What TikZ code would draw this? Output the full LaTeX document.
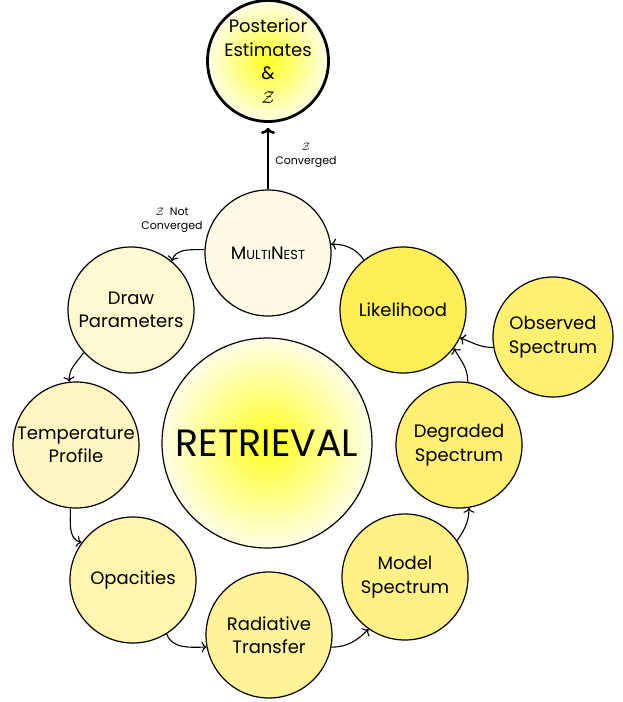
\documentclass[tikz,border=0pt]{standalone}
\usepackage{fontspec}
\setmainfont{Poppins}
\usetikzlibrary{arrows.meta}
\definecolor{glowc}{HTML}{FFFF38}
\definecolor{cMN}{HTML}{FFFBE6}
\definecolor{cDP}{HTML}{FFF9D2}
\definecolor{cTP}{HTML}{FFF6C2}
\definecolor{cOP}{HTML}{FFF5AE}
\definecolor{cRT}{HTML}{FFF39A}
\definecolor{cMS}{HTML}{FFF186}
\definecolor{cDS}{HTML}{FFEF72}
\definecolor{cLK}{HTML}{FFEE55}
\definecolor{cOS}{HTML}{FFF070}
\pgfdeclareradialshading{glow}{\pgfpoint{0bp}{0bp}}{color(0bp)=(glowc); color(3bp)=(glowc); color(28bp)=(white); color(50bp)=(white)}
\begin{document}
\begin{tikzpicture}[x=1pt,y=-1pt,
  bub/.style={circle, draw, line width=1.2pt, minimum size=126pt, inner sep=0pt, align=center, font=\fontsize{18}{23.5}\selectfont},
  lbl/.style={align=center, inner sep=0pt, font=\fontsize{11}{13.5}\selectfont},
  conn/.style={-{Computer Modern Rightarrow[length=5pt,width=11pt]}, line width=1.1pt}]
\useasboundingbox (0,0) rectangle (623,702);
\node[bub, minimum size=120pt, line width=2.8pt, shading=glow] (post) at (268,61) {Posterior\\Estimates\\\&\\$\mathcal{Z}$};
\node[bub, fill=cMN] (mn) at (268,253) {M{\fontsize{13}{15}\selectfont ULTI}N{\fontsize{13}{15}\selectfont EST}};
\node[bub, fill=cDP] (dp) at (131,310) {Draw\\Parameters};
\node[bub, fill=cTP] (tp) at (76,445) {Temperature\\Profile};
\node[bub, fill=cOP] (op) at (133,580) {Opacities};
\node[bub, fill=cRT] (rt) at (269,635) {Radiative\\Transfer};
\node[bub, fill=cMS] (ms) at (405,577) {Model\\Spectrum};
\node[bub, fill=cDS] (ds) at (459,445) {Degraded\\Spectrum};
\node[bub, fill=cLK] (lk) at (403,310) {Likelihood};
\node[bub, fill=cOS, minimum size=120pt] (os) at (553,337) {Observed\\Spectrum};
\node[bub, minimum size=210pt, shading=glow, font=\fontsize{38}{40}\selectfont] (ret) at (267,443) {RETRIEVAL};
\draw[-{Computer Modern Rightarrow[length=6pt,width=14pt]}, line width=2.6pt, shorten >=5pt] (mn.north) -- (post.south);
\node[lbl] (conv) at (306,155) {$\mathcal{Z}$\\Converged};
\node[lbl] (nconv) at (172,220) {$\mathcal{Z}$\ \ Not\\Converged};
\draw[conn] (mn.177) to[out=180,in=75] (dp.50);
\draw[conn] (dp.222) to[out=235,in=95] (tp.96);
\draw[conn] (tp.265) to[out=270,in=165] (op.144);
\draw[conn] (op.-58) to[out=-70,in=180] (rt.191);
\draw[conn] (rt.-11) to[out=0,in=225] (ms.235);
\draw[conn] (ms.35) to[out=55,in=270] (ds.-81);
\draw[conn] (ds.82) to[out=90,in=-60] (lk.-37);
\draw[conn] (os.190) to[out=180,in=-20] (lk.-26);
\draw[conn] (lk.128) to[out=125,in=0] (mn.8);
\end{tikzpicture}
\end{document}
